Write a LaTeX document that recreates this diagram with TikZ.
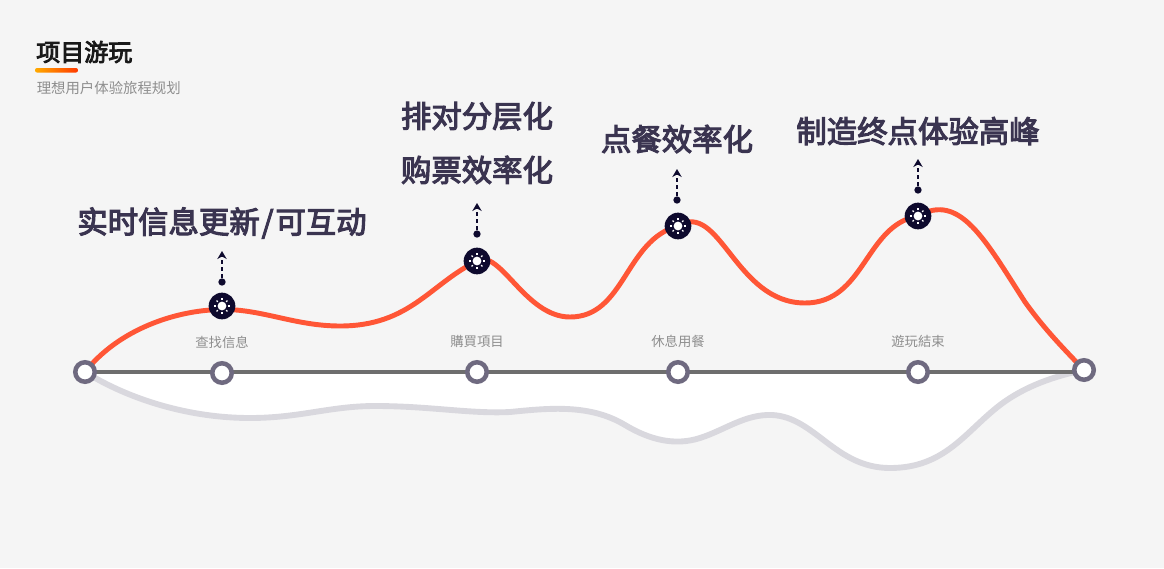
\documentclass[tikz,border=0pt]{standalone}
\usepackage{fontspec}
\usepackage{xcolor}
\usetikzlibrary{arrows.meta,positioning,calc}
\setmainfont{Noto Sans CJK SC}
\newfontfamily\midfont[FakeBold=3.5]{Noto Sans CJK SC}
\definecolor{bgpage}{HTML}{F5F5F5}
\definecolor{inkdark}{HTML}{0E0A2E}
\definecolor{inklabel}{HTML}{3A3450}
\definecolor{ringgray}{HTML}{6F6A80}
\definecolor{axisgray}{HTML}{6E6E6E}
\definecolor{lowgray}{HTML}{D9D8DE}
\definecolor{peakred}{HTML}{FF5636}
\definecolor{subgray}{HTML}{8E8E8E}
\definecolor{barstart}{HTML}{FFAA00}
\definecolor{barend}{HTML}{FF3A00}

\begin{document}
\begin{tikzpicture}[
  x=0.75pt, y=-0.75pt,
  ring/.style={circle, draw=ringgray, line width=3.4pt, fill=white, minimum size=14.6pt, inner sep=0pt},
  hub/.style={circle, fill=inkdark, minimum size=20pt, inner sep=0pt},
  dotend/.style={circle, fill=inkdark, minimum size=5.5pt, inner sep=0pt},
  arr/.style={-{Stealth[length=6pt,width=7pt]}, inkdark, line width=1.5pt, dash pattern=on 3pt off 2.4pt},
  bigtext/.style={font=\fontsize{22.8pt}{30pt}\selectfont\midfont, text=inklabel, inner sep=0pt, align=center},
  stoptext/.style={font=\fontsize{10pt}{12pt}\selectfont, text=subgray, inner sep=0pt}
]
\useasboundingbox (0,0) rectangle (1164,568);
\fill[bgpage] (0,0) rectangle (1164,568);

% title block
\node[anchor=west, inner sep=0pt, font=\fontsize{18pt}{22pt}\selectfont\midfont, text=black!90] (title) at (36,52) {项目游玩};
\shade[left color=barstart, right color=barend, rounded corners=1.5pt] (35,68) rectangle (78,72.5);
\node[anchor=west, inner sep=0pt, font=\fontsize{10.8pt}{13pt}\selectfont, text=subgray] (subtitle) at (36.5,88) {理想用户体验旅程规划};

% stops on the axis
\coordinate (start) at (85,372);
\coordinate (stop1) at (222,373);
\coordinate (stop2) at (477,372);
\coordinate (stop3) at (678,372);
\coordinate (stop4) at (918,372);
\coordinate (finish) at (1084,370);
\coordinate (peak1) at (222,306);
\coordinate (peak2) at (477,261);
\coordinate (peak3) at (678,226);
\coordinate (peak4) at (918,216);

% low curve and the white area over it
\fill[white] (start) .. controls (130,400) and (190,418) .. (250,418)
  .. controls (300,418) and (330,406) .. (375,406)
  .. controls (430,406) and (470,414) .. (510,412)
  .. controls (550,408) and (590,404) .. (625,425)
  .. controls (650,440) and (675,446) .. (700,438)
  .. controls (725,430) and (745,414) .. (772,415)
  .. controls (815,417) and (835,468) .. (890,468)
  .. controls (945,468) and (965,432) .. (1000,405)
  .. controls (1025,386) and (1055,376) .. (finish) -- (1084,372) -- cycle;
\draw[lowgray, line width=4.4pt] (start) .. controls (130,400) and (190,418) .. (250,418)
  .. controls (300,418) and (330,406) .. (375,406)
  .. controls (430,406) and (470,414) .. (510,412)
  .. controls (550,408) and (590,404) .. (625,425)
  .. controls (650,440) and (675,446) .. (700,438)
  .. controls (725,430) and (745,414) .. (772,415)
  .. controls (815,417) and (835,468) .. (890,468)
  .. controls (945,468) and (965,432) .. (1000,405)
  .. controls (1025,386) and (1055,376) .. (finish);

% axis
\draw[axisgray, line width=2.8pt] (start) -- (1084,372);

% high curve
\draw[peakred, line width=3.7pt] (start) .. controls (118,330) and (175,310) .. (222,309.5)
  .. controls (262,309) and (295,326) .. (340,326)
  .. controls (410,326) and (430,284) .. (peak2)
  .. controls (500,248) and (525,317) .. (570,317)
  .. controls (625,317) and (625,240) .. (peak3)
  .. controls (720,200) and (735,303) .. (805,303)
  .. controls (865,303) and (865,225) .. (peak4)
  .. controls (960,192) and (985,240) .. (1025,302)
  .. controls (1045,330) and (1065,350) .. (finish);

\node[ring] (dot0) at (start) {};
\node[ring] (dot1) at (stop1) {};
\node[ring] (dot2) at (stop2) {};
\node[ring] (dot3) at (stop3) {};
\node[ring] (dot4) at (stop4) {};
\node[ring] (dot5) at (finish) {};

\node[stoptext, above=23pt of stop1, yshift=-5pt] (name1) {查找信息};
\node[stoptext, above=23pt of stop2, yshift=-5pt] (name2) {購買項目};
\node[stoptext, above=23pt of stop3, yshift=-5pt] (name3) {休息用餐};
\node[stoptext, above=23pt of stop4, yshift=-5pt] (name4) {遊玩結束};

% markers on the peaks
\node[hub] (hub1) at (peak1) {};
\node[hub] (hub2) at (peak2) {};
\node[hub] (hub3) at (peak3) {};
\node[hub] (hub4) at (peak4) {};
\foreach \h in {hub1,hub2,hub3,hub4} {
  \fill[white] (\h) circle (3.3pt);
  \foreach \a in {0,45,...,315}
    \draw[white, line width=0.9pt] ($(\h)+(\a:4.4pt)$) -- ($(\h)+(\a:5.8pt)$);
}

\node[dotend] (tail1) at (222,282) {};
\node[dotend] (tail2) at (477,234) {};
\node[dotend] (tail3) at (677,200) {};
\node[dotend] (tail4) at (918,190) {};
\coordinate (tip1) at (222,251);
\coordinate (tip2) at (477,203);
\coordinate (tip3) at (677,169);
\coordinate (tip4) at (918,159);
\draw[arr] (tail1) -- (tip1);
\draw[arr] (tail2) -- (tip2);
\draw[arr] (tail3) -- (tip3);
\draw[arr] (tail4) -- (tip4);

\node[bigtext] (text1) at (222,223) {实时信息更新\kern1.4pt/\kern1.4pt可互动};
\node[bigtext] (text2) at (477,143) {排对分层化\\[10.5pt]购票效率化};
\node[bigtext] (text3) at (677,139) {点餐效率化};
\node[bigtext] (text4) at (918,131) {制造终点体验高峰};
\end{tikzpicture}
\end{document}
